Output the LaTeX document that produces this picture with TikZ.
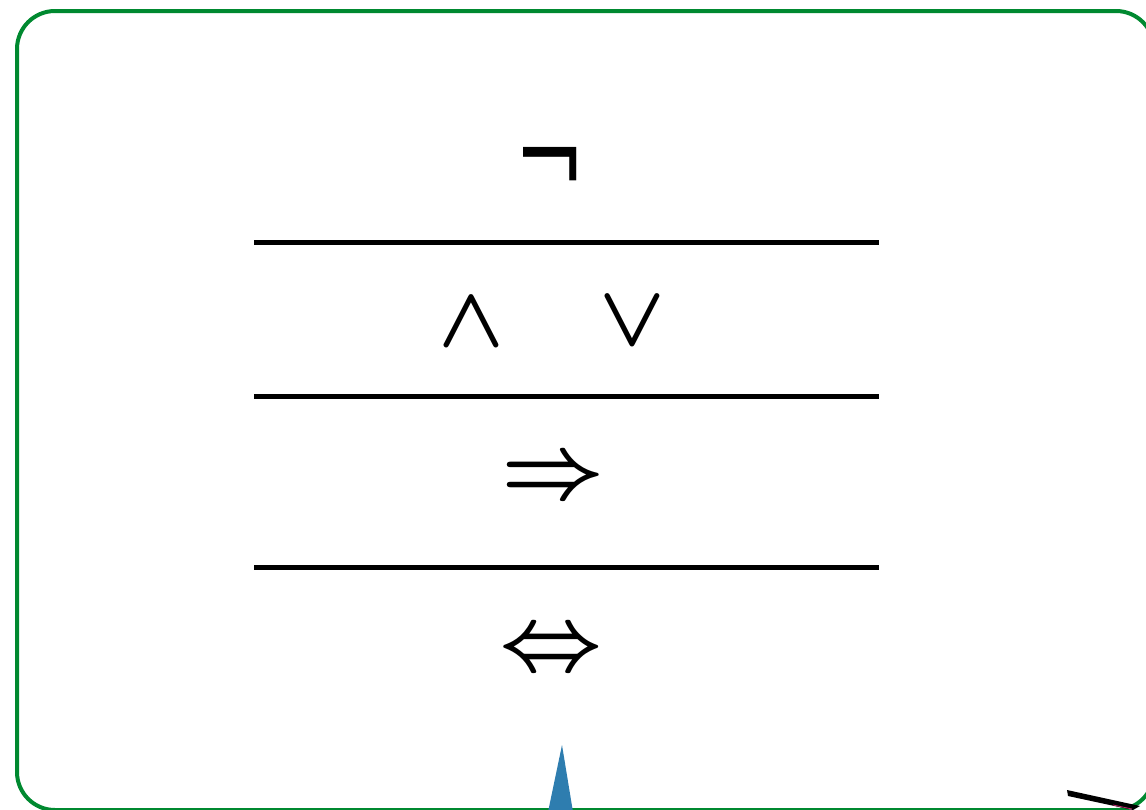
\documentclass[tikz,border=0pt]{standalone}
\usepackage{graphicx}
\usepackage{fontspec}
\newfontfamily\symfont{DejaVu Sans}
\definecolor{framegreen}{RGB}{0,137,48}
\definecolor{triblue}{RGB}{46,125,175}
\definecolor{thinpink}{RGB}{190,40,110}
\newcommand{\bigsym}[2][9.0]{\scalebox{#1}{\boldmath$#2$}}
\begin{document}
\begin{tikzpicture}[x=1pt,y=-1pt,
  sym/.style={inner sep=0pt},
  negsym/.style={inner sep=0pt,font=\symfont\fontsize{85}{85}\selectfont},
  rule/.style={line width=5pt}]
\useasboundingbox (0,0) rectangle (1146,809);
\draw[framegreen,line width=4pt,rounded corners=38pt] (17,11) rectangle (1154,810);
\coordinate (l1a) at (254,242); \coordinate (l1b) at (879,242);
\coordinate (l2a) at (254,396); \coordinate (l2b) at (879,396);
\coordinate (l3a) at (254,567); \coordinate (l3b) at (879,567);
\draw[rule] (l1a) -- (l1b);
\draw[rule] (l2a) -- (l2b);
\draw[rule] (l3a) -- (l3b);
\node[negsym] (neg) at (550,172) {\scalebox{1}[1.4]{¬}};
\node[sym] (and) at (471,323) {\bigsym[8.6]{\wedge}};
\node[sym] (or) at (632,322) {\bigsym[8.6]{\vee}};
\node[sym] (imp) at (553,480) {\bigsym{\Rightarrow}};
\node[sym] (iff) at (551,652) {\bigsym{\Leftrightarrow}};
\fill[triblue] (562,745) -- (573,812) -- (548,812) -- cycle;
\fill[black] (1067,790) -- (1068,796) -- (1133,810) -- (1140,806) -- cycle;
\draw[thinpink,line width=0.8pt] (1113,805) -- (1132,809);
\end{tikzpicture}
\end{document}
